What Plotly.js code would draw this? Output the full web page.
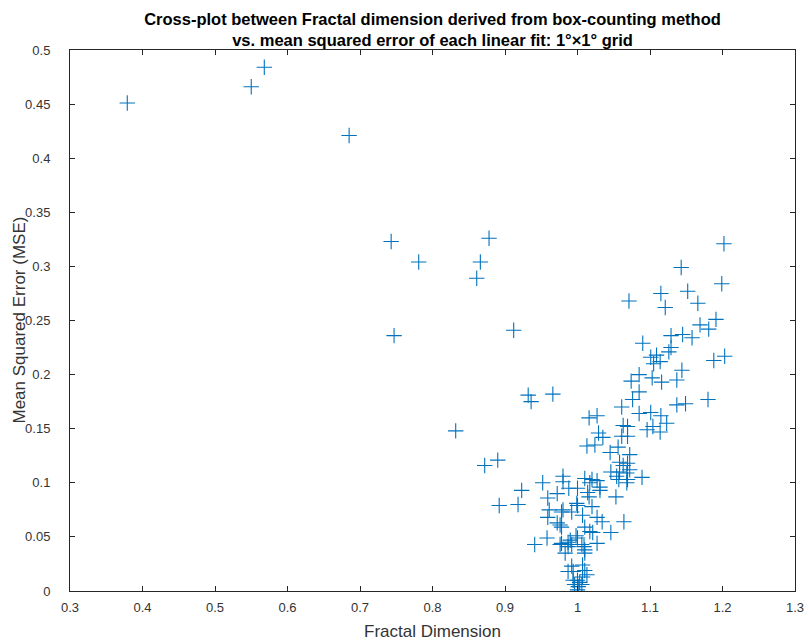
<!DOCTYPE html>
<html>
<head>
<meta charset="utf-8">
<script src="https://cdn.plot.ly/plotly-3.0.1.min.js"></script>
<style>html,body{margin:0;padding:0;background:#fff;}#chart{width:809px;height:641px;}</style>
</head>
<body>
<div id="chart"></div>
<script>
// Fractal dimension (box-counting) values
var fractalDim = [
  0.379, 0.550, 0.568, 0.685, 0.743, 0.781, 0.747, 0.878, 0.866, 0.861,
  0.912, 0.832, 0.932, 0.936, 0.966, 0.872, 0.890, 0.923, 0.892, 0.918,
  1.202, 1.143, 1.199, 1.115, 1.152, 1.071, 1.121, 1.166, 1.191, 1.169,
  1.181, 1.090, 1.129, 1.145, 1.158, 1.129, 1.126, 1.109, 1.101, 1.105,
  1.114, 1.188, 1.203, 1.144, 1.085, 1.074, 1.103, 1.116, 1.137, 1.085,
  1.076, 1.061, 1.137, 1.149, 1.180, 1.016, 1.027, 1.085, 1.101, 1.115,
  1.123, 1.063, 1.069, 1.096, 1.104, 1.114, 1.029, 1.035, 1.061, 1.069,
  1.013, 1.024, 1.056, 1.045, 1.072, 1.058, 1.069, 1.063, 1.072, 1.046,
  1.058, 1.068, 1.054, 1.057, 1.069, 1.089, 1.027, 1.020, 1.031, 1.053,
  1.064, 1.068, 1.031,
  0.980, 0.980, 0.988, 0.952, 0.972, 0.959, 1.000, 1.010, 1.017, 1.014,
  1.016, 0.999, 1.000, 1.020, 0.961, 0.980, 0.978, 0.992, 0.959, 1.007,
  1.027, 1.034, 0.972, 0.976, 1.010, 1.017, 1.021, 1.046, 0.998, 1.000,
  0.958, 0.941, 0.990, 0.978, 0.987, 0.992, 1.006, 1.010, 1.027, 0.983,
  1.010, 0.992, 1.007, 0.987, 0.994, 1.010, 1.013, 1.007, 1.000, 1.003,
  0.994, 1.001, 1.000, 0.996, 1.006, 0.978, 0.976, 0.987, 1.009
];
// Mean squared error of each linear fit
var mse = [
  0.451, 0.466, 0.484, 0.421, 0.323, 0.304, 0.236, 0.326, 0.304, 0.289,
  0.241, 0.148, 0.181, 0.175, 0.182, 0.116, 0.121, 0.093, 0.079, 0.080,
  0.321, 0.299, 0.284, 0.275, 0.277, 0.268, 0.262, 0.266, 0.251, 0.246,
  0.242, 0.229, 0.236, 0.237, 0.234, 0.225, 0.221, 0.218, 0.216, 0.210,
  0.212, 0.213, 0.217, 0.204, 0.200, 0.194, 0.197, 0.193, 0.195, 0.184,
  0.177, 0.170, 0.172, 0.173, 0.177, 0.160, 0.162, 0.164, 0.165, 0.162,
  0.155, 0.153, 0.152, 0.149, 0.152, 0.147, 0.146, 0.142, 0.143, 0.143,
  0.134, 0.135, 0.133, 0.128, 0.126, 0.119, 0.118, 0.116, 0.112, 0.110,
  0.110, 0.109, 0.106, 0.103, 0.103, 0.105, 0.102, 0.103, 0.096, 0.087,
  0.064, 0.100, 0.093,
  0.106, 0.101, 0.095, 0.100, 0.090, 0.086, 0.095, 0.104, 0.100, 0.091,
  0.087, 0.081, 0.079, 0.078, 0.075, 0.075, 0.073, 0.073, 0.068, 0.070,
  0.068, 0.064, 0.063, 0.061, 0.059, 0.055, 0.054, 0.054, 0.051, 0.049,
  0.049, 0.043, 0.047, 0.044, 0.041, 0.043, 0.043, 0.038, 0.044, 0.035,
  0.035, 0.023, 0.024, 0.018, 0.018, 0.019, 0.015, 0.013, 0.010, 0.008,
  0.010, 0.004, 0.001, 0.006, 0.006, 0.059, 0.043, 0.045, 0.041
];
var xTicks = [0.3, 0.4, 0.5, 0.6, 0.7, 0.8, 0.9, 1, 1.1, 1.2, 1.3];
var xTickText = ['0.3', '0.4', '0.5', '0.6', '0.7', '0.8', '0.9', '1', '1.1', '1.2', '1.3'];
var yTicks = [0, 0.05, 0.1, 0.15, 0.2, 0.25, 0.3, 0.35, 0.4, 0.45, 0.5];
var yTickText = ['0', '0.05', '0.1', '0.15', '0.2', '0.25', '0.3', '0.35', '0.4', '0.45', '0.5'];
var titleText = '<b>Cross-plot between Fractal dimension derived from box-counting method</b><br><b>vs. mean squared error of each linear fit: 1°×1° grid</b>';
var xLabel = 'Fractal Dimension';
var yLabel = 'Mean Squared Error (MSE)';

var trace = {
  x: fractalDim,
  y: mse,
  type: 'scatter',
  mode: 'markers',
  marker: {
    symbol: 'cross-thin',
    size: 11,
    color: '#0072BD',
    line: {color: '#0072BD', width: 1.1}
  },
  hoverinfo: 'x+y'
};

var fontFam = 'Liberation Sans, Arial, sans-serif';
var axisBase = {
  showline: true,
  linecolor: '#262626',
  linewidth: 1,
  mirror: 'ticks',
  ticks: 'inside',
  ticklen: 5,
  tickwidth: 1,
  tickcolor: '#262626',
  showgrid: false,
  zeroline: false,
  tickfont: {family: fontFam, size: 13, color: '#333333'}
};

var layout = {
  width: 809,
  height: 641,
  paper_bgcolor: '#ffffff',
  plot_bgcolor: '#ffffff',
  margin: {l: 70, r: 14, t: 50, b: 50},
  showlegend: false,
  title: {
    text: titleText,
    font: {family: fontFam, size: 16.5, color: '#000000'},
    xref: 'paper',
    x: 0.5,
    xanchor: 'center',
    yref: 'container',
    y: 1 - 24.5 / 641,
    yanchor: 'middle'
  },
  xaxis: Object.assign({}, axisBase, {
    range: [0.3, 1.3],
    tickmode: 'array',
    tickvals: xTicks,
    ticktext: xTickText,
    ticklabelstandoff: 4
  }),
  yaxis: Object.assign({}, axisBase, {
    range: [0, 0.5],
    tickmode: 'array',
    tickvals: yTicks,
    ticktext: yTickText,
    ticklabelstandoff: 16
  }),
  annotations: [
    {
      text: xLabel, xref: 'paper', yref: 'paper', x: 0.5, y: 0,
      xanchor: 'center', yanchor: 'middle', yshift: -40, showarrow: false,
      font: {family: fontFam, size: 17, color: '#333333'}
    },
    {
      text: yLabel, xref: 'paper', yref: 'paper', x: 0, y: 0.5,
      xanchor: 'center', yanchor: 'middle', xshift: -51, textangle: -90, showarrow: false,
      font: {family: fontFam, size: 17, color: '#333333'}
    }
  ]
};

Plotly.newPlot('chart', [trace], layout, {displayModeBar: false, responsive: false});
</script>
</body>
</html>
